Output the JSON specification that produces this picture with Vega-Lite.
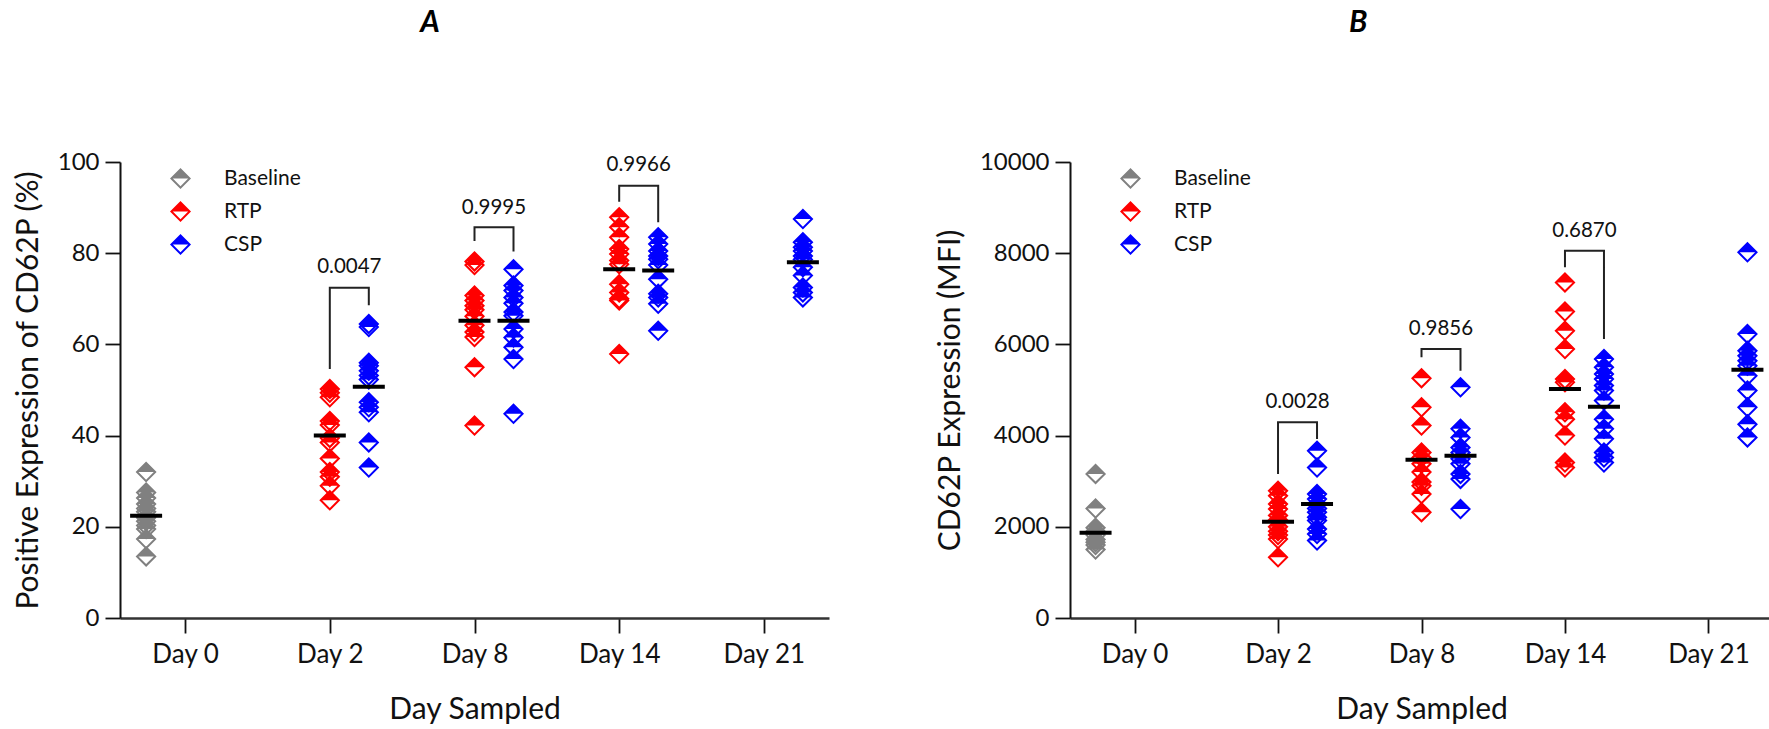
{
  "$schema": "https://vega.github.io/schema/vega-lite/v6.json",
  "background": "white",
  "padding": {"left": 13, "top": 8, "right": 0, "bottom": 0},
  "config": {
    "view": {"stroke": null},
    "font": "Lato",
    "axisX": {
      "domainColor": "#333333", "domainWidth": 2.5,
      "tickColor": "#111111", "tickWidth": 1.8, "tickSize": 15,
      "labelFontSize": 26, "labelColor": "#111111", "labelPadding": 8, "labelAngle": 0,
      "titleFontSize": 30, "titleFontWeight": "normal", "titleColor": "#111111", "titlePadding": 27,
      "grid": false
    },
    "axisY": {
      "domainColor": "#111111", "domainWidth": 2,
      "tickColor": "#111111", "tickWidth": 1.8, "tickSize": 15,
      "labelFontSize": 24, "labelColor": "#111111", "labelPadding": 6,
      "titleFontSize": 30, "titleFontWeight": "normal", "titleColor": "#111111", "titlePadding": 14,
      "grid": false
    },
    "legend": {
      "orient": "none", "legendX": 50, "legendY": 6, "title": null, "padding": 0,
      "symbolType": "M0,-1L1,0L0,1L-1,0Z M-0.73,0L0,0.73L0.73,0Z",
      "symbolSize": 441, "symbolStrokeWidth": 0, "symbolOpacity": 1,
      "labelFontSize": 21, "labelColor": "#111111", "labelOffset": 33, "rowPadding": 11
    },
    "title": {"fontSize": 30, "fontStyle": "italic", "fontWeight": "bold", "color": "#000000", "frame": "bounds", "anchor": "middle", "offset": 112}
  },
  "datasets": {
    "pct": [
      {"day": "Day 0", "group": "Baseline", "value": 32.0},
      {"day": "Day 0", "group": "Baseline", "value": 27.5},
      {"day": "Day 0", "group": "Baseline", "value": 26.3},
      {"day": "Day 0", "group": "Baseline", "value": 25.0},
      {"day": "Day 0", "group": "Baseline", "value": 24.0},
      {"day": "Day 0", "group": "Baseline", "value": 23.3},
      {"day": "Day 0", "group": "Baseline", "value": 22.0},
      {"day": "Day 0", "group": "Baseline", "value": 21.2},
      {"day": "Day 0", "group": "Baseline", "value": 20.3},
      {"day": "Day 0", "group": "Baseline", "value": 19.5},
      {"day": "Day 0", "group": "Baseline", "value": 17.3},
      {"day": "Day 0", "group": "Baseline", "value": 13.5},
      {"day": "Day 2", "group": "RTP", "value": 50.2},
      {"day": "Day 2", "group": "RTP", "value": 49.4},
      {"day": "Day 2", "group": "RTP", "value": 48.4},
      {"day": "Day 2", "group": "RTP", "value": 43.2},
      {"day": "Day 2", "group": "RTP", "value": 42.3},
      {"day": "Day 2", "group": "RTP", "value": 39.5},
      {"day": "Day 2", "group": "RTP", "value": 38.5},
      {"day": "Day 2", "group": "RTP", "value": 35.0},
      {"day": "Day 2", "group": "RTP", "value": 32.0},
      {"day": "Day 2", "group": "RTP", "value": 31.0},
      {"day": "Day 2", "group": "RTP", "value": 29.0},
      {"day": "Day 2", "group": "RTP", "value": 25.8},
      {"day": "Day 2", "group": "CSP", "value": 64.5},
      {"day": "Day 2", "group": "CSP", "value": 63.8},
      {"day": "Day 2", "group": "CSP", "value": 56.0},
      {"day": "Day 2", "group": "CSP", "value": 55.3},
      {"day": "Day 2", "group": "CSP", "value": 54.2},
      {"day": "Day 2", "group": "CSP", "value": 53.2},
      {"day": "Day 2", "group": "CSP", "value": 52.3},
      {"day": "Day 2", "group": "CSP", "value": 47.3},
      {"day": "Day 2", "group": "CSP", "value": 46.2},
      {"day": "Day 2", "group": "CSP", "value": 45.1},
      {"day": "Day 2", "group": "CSP", "value": 38.5},
      {"day": "Day 2", "group": "CSP", "value": 33.0},
      {"day": "Day 8", "group": "RTP", "value": 78.2},
      {"day": "Day 8", "group": "RTP", "value": 77.4},
      {"day": "Day 8", "group": "RTP", "value": 70.7},
      {"day": "Day 8", "group": "RTP", "value": 69.6},
      {"day": "Day 8", "group": "RTP", "value": 68.5},
      {"day": "Day 8", "group": "RTP", "value": 67.6},
      {"day": "Day 8", "group": "RTP", "value": 66.2},
      {"day": "Day 8", "group": "RTP", "value": 64.2},
      {"day": "Day 8", "group": "RTP", "value": 62.7},
      {"day": "Day 8", "group": "RTP", "value": 61.6},
      {"day": "Day 8", "group": "RTP", "value": 55.0},
      {"day": "Day 8", "group": "RTP", "value": 42.2},
      {"day": "Day 8", "group": "CSP", "value": 76.5},
      {"day": "Day 8", "group": "CSP", "value": 72.9},
      {"day": "Day 8", "group": "CSP", "value": 71.8},
      {"day": "Day 8", "group": "CSP", "value": 70.3},
      {"day": "Day 8", "group": "CSP", "value": 69.0},
      {"day": "Day 8", "group": "CSP", "value": 67.1},
      {"day": "Day 8", "group": "CSP", "value": 66.3},
      {"day": "Day 8", "group": "CSP", "value": 63.4},
      {"day": "Day 8", "group": "CSP", "value": 61.5},
      {"day": "Day 8", "group": "CSP", "value": 59.4},
      {"day": "Day 8", "group": "CSP", "value": 56.8},
      {"day": "Day 8", "group": "CSP", "value": 44.8},
      {"day": "Day 14", "group": "RTP", "value": 87.9},
      {"day": "Day 14", "group": "RTP", "value": 85.7},
      {"day": "Day 14", "group": "RTP", "value": 83.5},
      {"day": "Day 14", "group": "RTP", "value": 80.9},
      {"day": "Day 14", "group": "RTP", "value": 79.8},
      {"day": "Day 14", "group": "RTP", "value": 78.4},
      {"day": "Day 14", "group": "RTP", "value": 77.6},
      {"day": "Day 14", "group": "RTP", "value": 73.2},
      {"day": "Day 14", "group": "RTP", "value": 71.4},
      {"day": "Day 14", "group": "RTP", "value": 70.0},
      {"day": "Day 14", "group": "RTP", "value": 69.6},
      {"day": "Day 14", "group": "RTP", "value": 57.9},
      {"day": "Day 14", "group": "CSP", "value": 83.5},
      {"day": "Day 14", "group": "CSP", "value": 82.0},
      {"day": "Day 14", "group": "CSP", "value": 80.5},
      {"day": "Day 14", "group": "CSP", "value": 79.4},
      {"day": "Day 14", "group": "CSP", "value": 78.7},
      {"day": "Day 14", "group": "CSP", "value": 77.4},
      {"day": "Day 14", "group": "CSP", "value": 74.3},
      {"day": "Day 14", "group": "CSP", "value": 71.1},
      {"day": "Day 14", "group": "CSP", "value": 70.3},
      {"day": "Day 14", "group": "CSP", "value": 68.9},
      {"day": "Day 14", "group": "CSP", "value": 63.0},
      {"day": "Day 21", "group": "CSP", "value": 87.5},
      {"day": "Day 21", "group": "CSP", "value": 82.4},
      {"day": "Day 21", "group": "CSP", "value": 81.3},
      {"day": "Day 21", "group": "CSP", "value": 80.5},
      {"day": "Day 21", "group": "CSP", "value": 79.4},
      {"day": "Day 21", "group": "CSP", "value": 78.6},
      {"day": "Day 21", "group": "CSP", "value": 76.9},
      {"day": "Day 21", "group": "CSP", "value": 75.1},
      {"day": "Day 21", "group": "CSP", "value": 72.5},
      {"day": "Day 21", "group": "CSP", "value": 71.4},
      {"day": "Day 21", "group": "CSP", "value": 70.3}
    ],
    "pctMedian": [
      {"day": "Day 0", "group": "Baseline", "median": 22.4},
      {"day": "Day 2", "group": "RTP", "median": 40.0},
      {"day": "Day 2", "group": "CSP", "median": 50.7},
      {"day": "Day 8", "group": "RTP", "median": 65.2},
      {"day": "Day 8", "group": "CSP", "median": 65.2},
      {"day": "Day 14", "group": "RTP", "median": 76.5},
      {"day": "Day 14", "group": "CSP", "median": 76.2},
      {"day": "Day 21", "group": "CSP", "median": 78.0}
    ],
    "pctBracket": [
      {"day": "Day 2", "group": "RTP", "y": 54.6, "step": 1},
      {"day": "Day 2", "group": "RTP", "y": 72.4, "step": 2},
      {"day": "Day 2", "group": "CSP", "y": 72.4, "step": 3},
      {"day": "Day 2", "group": "CSP", "y": 68.6, "step": 4},
      {"day": "Day 8", "group": "RTP", "y": 82.7, "step": 1},
      {"day": "Day 8", "group": "RTP", "y": 85.7, "step": 2},
      {"day": "Day 8", "group": "CSP", "y": 85.7, "step": 3},
      {"day": "Day 8", "group": "CSP", "y": 80.4, "step": 4},
      {"day": "Day 14", "group": "RTP", "y": 91.3, "step": 1},
      {"day": "Day 14", "group": "RTP", "y": 94.8, "step": 2},
      {"day": "Day 14", "group": "CSP", "y": 94.8, "step": 3},
      {"day": "Day 14", "group": "CSP", "y": 86.8, "step": 4}
    ],
    "pctP": [
      {"day": "Day 2", "y": 77.6, "p": "0.0047"},
      {"day": "Day 8", "y": 90.6, "p": "0.9995"},
      {"day": "Day 14", "y": 99.9, "p": "0.9966"}
    ],
    "mfi": [
      {"day": "Day 0", "group": "Baseline", "value": 3160},
      {"day": "Day 0", "group": "Baseline", "value": 2400},
      {"day": "Day 0", "group": "Baseline", "value": 1980},
      {"day": "Day 0", "group": "Baseline", "value": 1900},
      {"day": "Day 0", "group": "Baseline", "value": 1820},
      {"day": "Day 0", "group": "Baseline", "value": 1720},
      {"day": "Day 0", "group": "Baseline", "value": 1660},
      {"day": "Day 0", "group": "Baseline", "value": 1600},
      {"day": "Day 0", "group": "Baseline", "value": 1500},
      {"day": "Day 2", "group": "RTP", "value": 2790},
      {"day": "Day 2", "group": "RTP", "value": 2680},
      {"day": "Day 2", "group": "RTP", "value": 2500},
      {"day": "Day 2", "group": "RTP", "value": 2390},
      {"day": "Day 2", "group": "RTP", "value": 2250},
      {"day": "Day 2", "group": "RTP", "value": 2150},
      {"day": "Day 2", "group": "RTP", "value": 2000},
      {"day": "Day 2", "group": "RTP", "value": 1900},
      {"day": "Day 2", "group": "RTP", "value": 1820},
      {"day": "Day 2", "group": "RTP", "value": 1730},
      {"day": "Day 2", "group": "RTP", "value": 1330},
      {"day": "Day 2", "group": "CSP", "value": 3670},
      {"day": "Day 2", "group": "CSP", "value": 3300},
      {"day": "Day 2", "group": "CSP", "value": 2720},
      {"day": "Day 2", "group": "CSP", "value": 2610},
      {"day": "Day 2", "group": "CSP", "value": 2500},
      {"day": "Day 2", "group": "CSP", "value": 2400},
      {"day": "Day 2", "group": "CSP", "value": 2320},
      {"day": "Day 2", "group": "CSP", "value": 2210},
      {"day": "Day 2", "group": "CSP", "value": 2140},
      {"day": "Day 2", "group": "CSP", "value": 1950},
      {"day": "Day 2", "group": "CSP", "value": 1840},
      {"day": "Day 2", "group": "CSP", "value": 1700},
      {"day": "Day 8", "group": "RTP", "value": 5260},
      {"day": "Day 8", "group": "RTP", "value": 4620},
      {"day": "Day 8", "group": "RTP", "value": 4220},
      {"day": "Day 8", "group": "RTP", "value": 3630},
      {"day": "Day 8", "group": "RTP", "value": 3520},
      {"day": "Day 8", "group": "RTP", "value": 3380},
      {"day": "Day 8", "group": "RTP", "value": 3200},
      {"day": "Day 8", "group": "RTP", "value": 2980},
      {"day": "Day 8", "group": "RTP", "value": 2900},
      {"day": "Day 8", "group": "RTP", "value": 2720},
      {"day": "Day 8", "group": "RTP", "value": 2320},
      {"day": "Day 8", "group": "CSP", "value": 5060},
      {"day": "Day 8", "group": "CSP", "value": 4150},
      {"day": "Day 8", "group": "CSP", "value": 3960},
      {"day": "Day 8", "group": "CSP", "value": 3740},
      {"day": "Day 8", "group": "CSP", "value": 3630},
      {"day": "Day 8", "group": "CSP", "value": 3490},
      {"day": "Day 8", "group": "CSP", "value": 3380},
      {"day": "Day 8", "group": "CSP", "value": 3160},
      {"day": "Day 8", "group": "CSP", "value": 3050},
      {"day": "Day 8", "group": "CSP", "value": 2390},
      {"day": "Day 14", "group": "RTP", "value": 7360},
      {"day": "Day 14", "group": "RTP", "value": 6720},
      {"day": "Day 14", "group": "RTP", "value": 6300},
      {"day": "Day 14", "group": "RTP", "value": 5900},
      {"day": "Day 14", "group": "RTP", "value": 5240},
      {"day": "Day 14", "group": "RTP", "value": 5170},
      {"day": "Day 14", "group": "RTP", "value": 4510},
      {"day": "Day 14", "group": "RTP", "value": 4360},
      {"day": "Day 14", "group": "RTP", "value": 4000},
      {"day": "Day 14", "group": "RTP", "value": 3410},
      {"day": "Day 14", "group": "RTP", "value": 3300},
      {"day": "Day 14", "group": "CSP", "value": 5680},
      {"day": "Day 14", "group": "CSP", "value": 5500},
      {"day": "Day 14", "group": "CSP", "value": 5350},
      {"day": "Day 14", "group": "CSP", "value": 5240},
      {"day": "Day 14", "group": "CSP", "value": 5100},
      {"day": "Day 14", "group": "CSP", "value": 4990},
      {"day": "Day 14", "group": "CSP", "value": 4770},
      {"day": "Day 14", "group": "CSP", "value": 4360},
      {"day": "Day 14", "group": "CSP", "value": 4150},
      {"day": "Day 14", "group": "CSP", "value": 3930},
      {"day": "Day 14", "group": "CSP", "value": 3630},
      {"day": "Day 14", "group": "CSP", "value": 3520},
      {"day": "Day 14", "group": "CSP", "value": 3410},
      {"day": "Day 21", "group": "CSP", "value": 8020},
      {"day": "Day 21", "group": "CSP", "value": 6230},
      {"day": "Day 21", "group": "CSP", "value": 5860},
      {"day": "Day 21", "group": "CSP", "value": 5750},
      {"day": "Day 21", "group": "CSP", "value": 5640},
      {"day": "Day 21", "group": "CSP", "value": 5530},
      {"day": "Day 21", "group": "CSP", "value": 5310},
      {"day": "Day 21", "group": "CSP", "value": 4990},
      {"day": "Day 21", "group": "CSP", "value": 4620},
      {"day": "Day 21", "group": "CSP", "value": 4250},
      {"day": "Day 21", "group": "CSP", "value": 3960}
    ],
    "mfiMedian": [
      {"day": "Day 0", "group": "Baseline", "median": 1870},
      {"day": "Day 2", "group": "RTP", "median": 2112},
      {"day": "Day 2", "group": "CSP", "median": 2500},
      {"day": "Day 8", "group": "RTP", "median": 3472},
      {"day": "Day 8", "group": "CSP", "median": 3560},
      {"day": "Day 14", "group": "RTP", "median": 5022},
      {"day": "Day 14", "group": "CSP", "median": 4634},
      {"day": "Day 21", "group": "CSP", "median": 5446}
    ],
    "mfiBracket": [
      {"day": "Day 2", "group": "RTP", "y": 3158, "step": 1},
      {"day": "Day 2", "group": "RTP", "y": 4291, "step": 2},
      {"day": "Day 2", "group": "CSP", "y": 4291, "step": 3},
      {"day": "Day 2", "group": "CSP", "y": 3925, "step": 4},
      {"day": "Day 8", "group": "RTP", "y": 5716, "step": 1},
      {"day": "Day 8", "group": "RTP", "y": 5899, "step": 2},
      {"day": "Day 8", "group": "CSP", "y": 5899, "step": 3},
      {"day": "Day 8", "group": "CSP", "y": 5424, "step": 4},
      {"day": "Day 14", "group": "RTP", "y": 7690, "step": 1},
      {"day": "Day 14", "group": "RTP", "y": 8055, "step": 2},
      {"day": "Day 14", "group": "CSP", "y": 8055, "step": 3},
      {"day": "Day 14", "group": "CSP", "y": 6118, "step": 4}
    ],
    "mfiP": [
      {"day": "Day 2", "y": 4800, "p": "0.0028"},
      {"day": "Day 8", "y": 6397, "p": "0.9856"},
      {"day": "Day 14", "y": 8546, "p": "0.6870"}
    ]
  },
  "spacing": 106,
  "resolve": {
    "scale": {"color": "independent", "y": "independent"},
    "legend": {"color": "independent"}
  },
  "hconcat": [
    {
      "width": 709,
      "height": 456,
      "title": {"text": "A", "dx": 9},
      "encoding": {
        "x": {
          "field": "day", "type": "nominal", "title": "Day Sampled",
          "scale": {"type": "point", "domain": ["Day 0", "Day 2", "Day 8", "Day 14", "Day 21"], "padding": 0.45}
        },
        "xOffset": {
          "field": "group", "type": "nominal",
          "scale": {"type": "point", "domain": ["Baseline", "RTP", "CSP"], "range": [-39, 39], "padding": 0}
        }
      },
      "layer": [
        {
          "data": {"name": "pct"},
          "mark": {"type": "point", "shape": "M0,-1L1,0L0,1L-1,0Z M-0.73,0L0,0.73L0.73,0Z", "filled": true, "size": 441, "opacity": 1, "strokeWidth": 0},
          "encoding": {
            "y": {
              "field": "value", "type": "quantitative", "title": "Positive Expression of CD62P (%)",
              "scale": {"domain": [0, 100], "nice": false},
              "axis": {"values": [0, 20, 40, 60, 80, 100]}
            },
            "color": {
              "field": "group", "type": "nominal",
              "scale": {"domain": ["Baseline", "RTP", "CSP"], "range": ["#808080", "#FF0000", "#0000FF"]}
            }
          }
        },
        {
          "data": {"name": "pctMedian"},
          "mark": {"type": "tick", "color": "#000000", "size": 32, "thickness": 4, "opacity": 1},
          "encoding": {"y": {"field": "median", "type": "quantitative"}}
        },
        {
          "data": {"name": "pctBracket"},
          "mark": {"type": "line", "color": "#222222", "strokeWidth": 2},
          "encoding": {
            "y": {"field": "y", "type": "quantitative"},
            "detail": {"field": "day"},
            "order": {"field": "step"}
          }
        },
        {
          "data": {"name": "pctP"},
          "mark": {"type": "text", "fontSize": 20.5, "color": "#111111", "dx": 19.5, "dy": 3, "baseline": "middle"},
          "encoding": {
            "xOffset": {"datum": "RTP"},
            "y": {"field": "y", "type": "quantitative"},
            "text": {"field": "p"}
          }
        }
      ]
    },
    {
      "width": 703,
      "height": 456,
      "title": {"text": "B", "dx": 4},
      "encoding": {
        "x": {
          "field": "day", "type": "nominal", "title": "Day Sampled",
          "scale": {"type": "point", "domain": ["Day 0", "Day 2", "Day 8", "Day 14", "Day 21"], "padding": 0.45}
        },
        "xOffset": {
          "field": "group", "type": "nominal",
          "scale": {"type": "point", "domain": ["Baseline", "RTP", "CSP"], "range": [-39, 39], "padding": 0}
        }
      },
      "layer": [
        {
          "data": {"name": "mfi"},
          "mark": {"type": "point", "shape": "M0,-1L1,0L0,1L-1,0Z M-0.73,0L0,0.73L0.73,0Z", "filled": true, "size": 441, "opacity": 1, "strokeWidth": 0},
          "encoding": {
            "y": {
              "field": "value", "type": "quantitative", "title": "CD62P Expression (MFI)",
              "scale": {"domain": [0, 10000], "nice": false},
              "axis": {"values": [0, 2000, 4000, 6000, 8000, 10000], "format": "d"}
            },
            "color": {
              "field": "group", "type": "nominal",
              "scale": {"domain": ["Baseline", "RTP", "CSP"], "range": ["#808080", "#FF0000", "#0000FF"]}
            }
          }
        },
        {
          "data": {"name": "mfiMedian"},
          "mark": {"type": "tick", "color": "#000000", "size": 32, "thickness": 4, "opacity": 1},
          "encoding": {"y": {"field": "median", "type": "quantitative"}}
        },
        {
          "data": {"name": "mfiBracket"},
          "mark": {"type": "line", "color": "#222222", "strokeWidth": 2},
          "encoding": {
            "y": {"field": "y", "type": "quantitative"},
            "detail": {"field": "day"},
            "order": {"field": "step"}
          }
        },
        {
          "data": {"name": "mfiP"},
          "mark": {"type": "text", "fontSize": 20.5, "color": "#111111", "dx": 19.5, "dy": 3, "baseline": "middle"},
          "encoding": {
            "xOffset": {"datum": "RTP"},
            "y": {"field": "y", "type": "quantitative"},
            "text": {"field": "p"}
          }
        }
      ]
    }
  ]
}
